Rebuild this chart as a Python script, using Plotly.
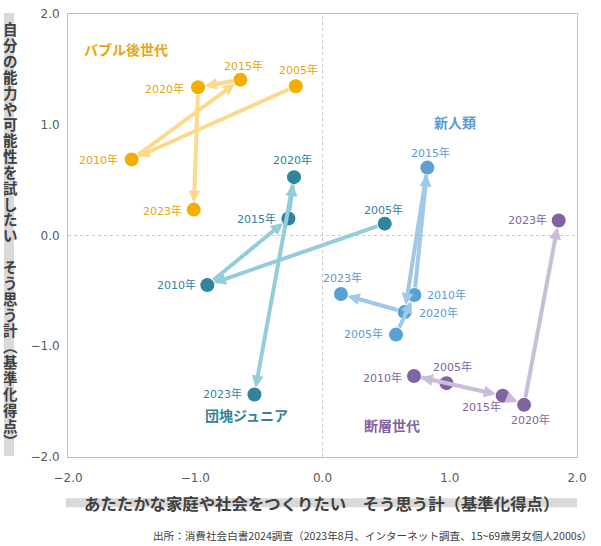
import plotly.graph_objects as go

# ---------------- data ----------------
years = ["2005年", "2010年", "2015年", "2020年", "2023年"]

bubble_x = [-0.21, -1.50, -0.645, -0.978, -1.012]
bubble_y = [1.348, 0.687, 1.407, 1.339, 0.234]

dankai_x = [0.489, -0.905, -0.268, -0.224, -0.535]
dankai_y = [0.107, -0.448, 0.154, 0.527, -1.435]

shinjin_x = [0.578, 0.722, 0.824, 0.646, 0.145]
shinjin_y = [-0.895, -0.537, 0.613, -0.691, -0.528]

dansou_x = [0.974, 0.719, 1.416, 1.584, 1.856]
dansou_y = [-1.333, -1.268, -1.446, -1.529, 0.136]

group_names = ["バブル後世代", "団塊ジュニア", "新人類", "断層世代"]

x_ticks = [-2.0, -1.0, 0.0, 1.0, 2.0]
y_ticks = [-2.0, -1.0, 0.0, 1.0, 2.0]

x_title = "あたたかな家庭や社会をつくりたい　そう思う計（基準化得点）"
y_title = "自分の能力や可能性を試したい　そう思う計︵基準化得点︶"
source = "出所：消費社会白書2024調査（2023年8月、インターネット調査、15~69歳男女個人2000s）"

# ---------------- styles ----------------
series = [
    dict(name=group_names[0], x=bubble_x, y=bubble_y, marker="#F4AE00", arrow="#FDD98A", text="#E8A40C",
         label_pos=(-1.541, 1.68),
         offs=[("c", 3, 16), ("r", -11.5, -1), ("c", 3.5, 14), ("r", -12, -2), ("r", -10, -1.5)]),
    dict(name=group_names[1], x=dankai_x, y=dankai_y, marker="#31849B", arrow="#93CDDB", text="#31849B",
         label_pos=(-0.598, -1.624),
         offs=[("c", -1, 14), ("r", -9.5, 0), ("r", -10.5, -1), ("c", -2, 17), ("r", -10, 0)]),
    dict(name=group_names[2], x=shinjin_x, y=shinjin_y, marker="#57A1D5", arrow="#A0C8E7", text="#5B9BD5",
         label_pos=(1.039, 1.022),
         offs=[("r", -11, 1), ("l", 10.5, -0.5), ("c", 3.3, 14.5), ("l", 12.5, -1.3), ("c", 1.4, 16)]),
    dict(name=group_names[3], x=dansou_x, y=dansou_y, marker="#8064A2", arrow="#C9BDDA", text="#8064A2",
         label_pos=(0.546, -1.707),
         offs=[("c", 6.3, 16), ("r", -9.5, -2), ("c", -21, -11.5), ("c", 6.7, -15), ("r", -10, 0)]),
]

L, R, T, B = 68, 24, 7, 89
W, H = 601, 546
PW, PH = W - L - R, H - T - B


def px2paper(px, py):
    return (px - L) / PW, (T + PH - py) / PH


JP = "Noto Sans CJK JP"
NUM = "DejaVu Sans, Noto Sans CJK JP"

fig = go.Figure()
annotations = []

for s in series:
    xs, ys = s["x"], s["y"]
    # arrows
    for i in range(len(xs) - 1):
        annotations.append(dict(
            x=xs[i + 1], y=ys[i + 1], ax=xs[i], ay=ys[i],
            xref="x", yref="y", axref="x", ayref="y",
            text="", showarrow=True, arrowhead=2, arrowsize=0.6, arrowwidth=4,
            arrowcolor=s["arrow"], standoff=7, startstandoff=6,
        ))
    fig.add_trace(go.Scatter(
        x=xs, y=ys, mode="markers", name=s["name"],
        marker=dict(size=14, color=s["marker"], line=dict(width=0)),
        hoverinfo="skip", showlegend=False,
    ))
    # year labels
    for i, (anc, dx, dy) in enumerate(s["offs"]):
        annotations.append(dict(
            x=xs[i], y=ys[i], xref="x", yref="y", text=years[i], showarrow=False,
            xanchor={"c": "center", "r": "right", "l": "left"}[anc], yanchor="middle",
            xshift=dx, yshift=dy,
            font=dict(family=NUM, size=11, color=s["text"]),
        ))
    # group label
    annotations.append(dict(
        x=s["label_pos"][0], y=s["label_pos"][1], xref="x", yref="y",
        text="<b>" + s["name"] + "</b>", showarrow=False,
        xanchor="center", yanchor="middle",
        font=dict(family=JP, size=14, color=s["text"]),
    ))

# x-axis title
xt_x, xt_y = px2paper(321, 503.5)
annotations.append(dict(
    x=xt_x, y=xt_y, xref="paper", yref="paper", text="<b>" + x_title + "</b>",
    showarrow=False, xanchor="center", yanchor="middle",
    font=dict(family=JP, size=16.4, color="#404040"),
))

# y-axis title (vertical, upright characters, one per slot)
for i, ch in enumerate(y_title):
    if ch == "　":
        continue
    px_, py_ = px2paper(10, 22 + i * 16.1)
    annotations.append(dict(
        x=px_, y=py_, xref="paper", yref="paper", text="<b>" + ch + "</b>",
        showarrow=False, xanchor="center", yanchor="middle",
        borderpad=0,
        font=dict(family=JP, size=14.5, color="#404040"),
    ))

# source
sx, sy = px2paper(594, 537)
annotations.append(dict(
    x=sx, y=sy, xref="paper", yref="paper", text=source, showarrow=False,
    xanchor="right", yanchor="middle",
    font=dict(family=JP, size=10.6, color="#404040"),
))

# shapes: gray title bands and dotted zero lines
yb0x, yb0y = px2paper(4, 456)
yb1x, yb1y = px2paper(14, 6)
xb0x, xb0y = px2paper(66, 508)
xb1x, xb1y = px2paper(577, 499)
shapes = [
    dict(type="rect", xref="paper", yref="paper", x0=yb0x, x1=yb1x, y0=yb0y, y1=yb1y,
         fillcolor="#D9D9D9", line=dict(width=0), layer="below"),
    dict(type="rect", xref="paper", yref="paper", x0=xb0x, x1=xb1x, y0=xb0y, y1=xb1y,
         fillcolor="#D9D9D9", line=dict(width=0), layer="below"),
    dict(type="line", xref="x", yref="paper", x0=0, x1=0, y0=0, y1=1,
         line=dict(color="#C8C8C8", width=1, dash="dot"), layer="below"),
    dict(type="line", xref="paper", yref="y", x0=0, x1=1, y0=0, y1=0,
         line=dict(color="#C8C8C8", width=1, dash="dot"), layer="below"),
]

axis_common = dict(
    showgrid=False, zeroline=False, showline=True, mirror=True,
    linecolor="#BFBFBF", linewidth=1, ticks="outside", tickcolor="rgba(0,0,0,0)",
    tickformat=".1f",
    tickfont=dict(family=NUM, size=12, color="#595959"),
    fixedrange=True,
)

fig.update_layout(
    width=W, height=H,
    margin=dict(l=L, r=R, t=T, b=B, pad=0),
    paper_bgcolor="white", plot_bgcolor="white",
    xaxis=dict(range=[-2, 2], tickvals=x_ticks, ticklen=10, **axis_common),
    yaxis=dict(range=[-2, 2], tickvals=y_ticks, ticklen=5, **axis_common),
    annotations=annotations,
    shapes=shapes,
    showlegend=False,
)

fig.write_html("out.html")
